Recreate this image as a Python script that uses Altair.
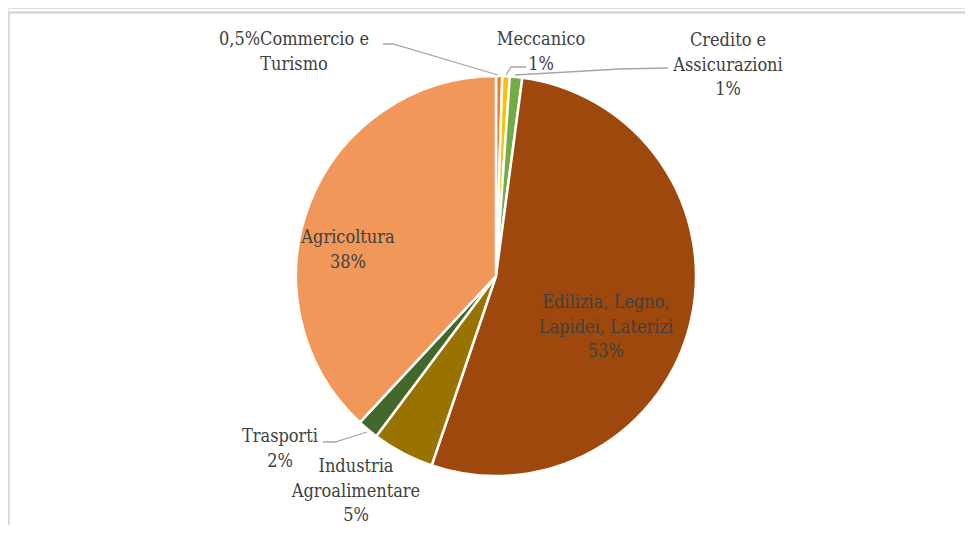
import altair as alt
import pandas as pd

# ---- data ----
categories = ["Commercio e Turismo", "Meccanico", "Credito e Assicurazioni",
              "Edilizia, Legno, Lapidei, Laterizi", "Industria Agroalimentare",
              "Trasporti", "Agricoltura"]
values = [0.5, 0.6, 1.0, 53.0, 5.0, 1.7, 38.0]
pct_labels = ["0,5%", "1%", "1%", "53%", "5%", "2%", "38%"]
name_lines = [["Commercio e", "Turismo"], ["Meccanico"], ["Credito e", "Assicurazioni"],
              ["Edilizia, Legno,", "Lapidei, Laterizi"], ["Industria", "Agroalimentare"],
              ["Trasporti"], ["Agricoltura"]]
colors = ["#ED7D31", "#FFC000", "#70AD47", "#9E480E", "#997300", "#43682B", "#F1975A"]

# ---- layout (page px -> chart px) ----
OFF = 8
W, H = 957, 517
CX, CY, R = 496 - OFF, 276 - OFF, 200
FONT = "'DejaVu Serif Condensed', 'DejaVu Serif', serif"
FS = 18
LH = 24.5
TXT = "#404040"
# label anchor: center x, first baseline y (page coords)
label_pos = [(294, 45), (541, 45), (728, 46), (606, 308), (356, 472), (280, 442), (348, 243)]
leaders = [
    [(383, 44), (393, 44), (498, 75)],
    [(506, 75), (511, 67), (526, 67)],
    [(515, 75), (620, 69), (668, 68)],
    [(323, 442), (335, 442), (367, 432)],
]

pie_df = pd.DataFrame({"category": categories, "value": values, "idx": range(len(values))})

rows = []
for i, (lines, pct) in enumerate(zip(name_lines, pct_labels)):
    if i == 0:
        all_lines = [pct + lines[0]] + lines[1:]
    else:
        all_lines = lines + [pct]
    x, y = label_pos[i]
    for j, t in enumerate(all_lines):
        rows.append({"text": t, "x": x - OFF, "y": y - OFF + j * LH})
lab_df = pd.DataFrame(rows)

lrows = []
for k, pts in enumerate(leaders):
    for j, (x, y) in enumerate(pts):
        lrows.append({"g": k, "o": j, "x": x - OFF, "y": y - OFF})
lead_df = pd.DataFrame(lrows)

pie = alt.Chart(pie_df).mark_arc(outerRadius=R, stroke="white", strokeWidth=2.5).encode(
    theta=alt.Theta("value:Q", stack=True),
    color=alt.Color("category:N", scale=alt.Scale(domain=categories, range=colors), legend=None),
    order=alt.Order("idx:Q"),
    x=alt.value(CX),
    y=alt.value(CY),
)

labels = alt.Chart(lab_df).mark_text(font=FONT, fontSize=FS, color=TXT, align="center",
                                     baseline="alphabetic").encode(
    x=alt.X("x:Q", scale=None),
    y=alt.Y("y:Q", scale=None),
    text="text:N",
)

lead = alt.Chart(lead_df).mark_line(color="#A6A6A6", strokeWidth=1.3).encode(
    x=alt.X("x:Q", scale=None),
    y=alt.Y("y:Q", scale=None),
    detail="g:N",
    order="o:Q",
)

frame_top = alt.Chart(pie_df).mark_rule(color="#D9D9D9", strokeWidth=1.5).encode(
    x=alt.value(0), x2=alt.value(W), y=alt.value(12.5 - OFF))
frame_left = alt.Chart(pie_df).mark_rule(color="#D9D9D9", strokeWidth=1.5).encode(
    x=alt.value(0.5), y=alt.value(12.5 - OFF), y2=alt.value(H))

chart = alt.layer(frame_top, frame_left, pie, lead, labels).properties(
    width=W, height=H, padding=0,
    autosize=alt.AutoSizeParams(type="none"),
).configure_view(stroke=None).configure(background="white")

chart.save("out.html", embed_options={"renderer": "svg", "actions": False})
